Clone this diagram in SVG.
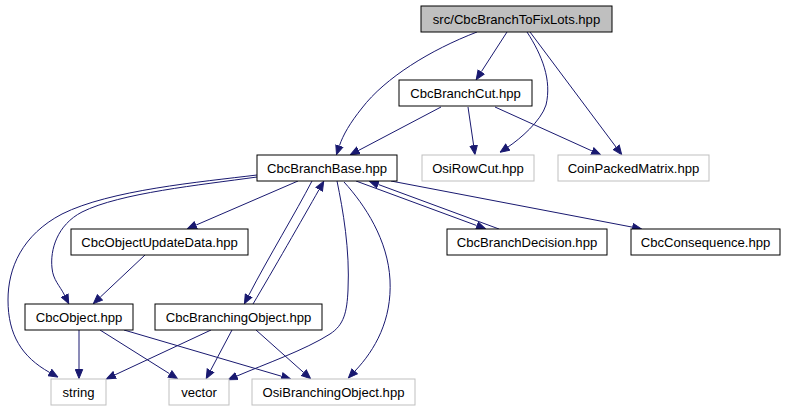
<svg xmlns="http://www.w3.org/2000/svg" width="785" height="411" viewBox="0 0 785 411">
<style>
.n rect{fill:#ffffff;stroke:#000000;stroke-width:1}
.n.root rect{fill:#bfbfbf}
.n.ext rect{stroke:#bfbfbf}
.n text{font-family:"Liberation Sans",Arial,Helvetica,sans-serif;font-size:13.1px;fill:#000000;text-anchor:middle}
.e path{fill:none;stroke:#191970;stroke-width:1;marker-end:url(#ah)}
</style>
<defs>
<marker id="ah" viewBox="0 0 10 9" refX="0" refY="4.5" markerWidth="10" markerHeight="9" markerUnits="userSpaceOnUse" orient="auto">
<path d="M0.5,0.8 L9.5,4.5 L0.5,8.2 z" fill="#191970" stroke="#191970" stroke-width="1"/>
</marker>
</defs>
<rect x="0" y="0" width="785" height="411" fill="#ffffff"/>
<g id="edges" class="e">
<path d="M477,32 C430,50 385,78 362,108 C350,123 343,135 339.5,145.6"/>
<path d="M507,32 L481.4,71.6"/>
<path d="M527,32 C542,55 552,80 546,105 C541,121 520,139 508.1,146.9"/>
<path d="M530,32 L616,147"/>
<path d="M441,107 L358.8,150.3"/>
<path d="M468,107 L473.6,145.1"/>
<path d="M495,107 L591.9,150.9"/>
<path d="M257,175 C200,182 110,190 62,214 C22,235 8,268 8,300 C8,335 22,357 49.5,372.4"/>
<path d="M257,177 C200,185 120,193 82,212 C57,225 50,250 52,268 C53,280 60,286 64.5,295.1"/>
<path d="M298,181 L196.2,225"/>
<path d="M145,255 L100.3,297.1"/>
<path d="M312,181 C296,212 268,258 248.8,295.2"/>
<path d="M253,304 C272,272 303,218 319,189.7"/>
<path d="M337,181 C343,210 350,250 348,290 C347,312 344,325 330,334 C305,350 265,364 237,376"/>
<path d="M344,182 C365,205 388,240 390,280 C392,320 375,350 355,371"/>
<path d="M356,181 L476.6,225.5"/>
<path d="M499,229 L378.4,184.5"/>
<path d="M391,181 L632.2,227.1"/>
<path d="M79,330 L79,369"/>
<path d="M100,330 L169.5,373.7"/>
<path d="M124,330 L281.4,376.2"/>
<path d="M211,330 L115.1,374.8"/>
<path d="M232,330 L210.7,370.2"/>
<path d="M256,330 L303.5,372.4"/>
</g>
<g id="node_root" class="n root"><rect x="421" y="6" width="191" height="26"/><text x="516.5" y="23.5">src/CbcBranchToFixLots.hpp</text></g>
<g id="node_CbcBranchCut" class="n"><rect x="399" y="80" width="133" height="26"/><text x="465.5" y="97.5">CbcBranchCut.hpp</text></g>
<g id="node_OsiRowCut" class="n ext"><rect x="422" y="155" width="112" height="26"/><text x="478" y="172.5">OsiRowCut.hpp</text></g>
<g id="node_CoinPackedMatrix" class="n ext"><rect x="558" y="155" width="151" height="26"/><text x="633.5" y="172.5">CoinPackedMatrix.hpp</text></g>
<g id="node_CbcBranchBase" class="n"><rect x="257" y="155" width="140" height="26"/><text x="327" y="172.5">CbcBranchBase.hpp</text></g>
<g id="node_CbcObjectUpdateData" class="n"><rect x="71" y="229" width="177" height="26"/><text x="159.5" y="246.5">CbcObjectUpdateData.hpp</text></g>
<g id="node_CbcBranchDecision" class="n"><rect x="447" y="229" width="160" height="26"/><text x="527" y="246.5">CbcBranchDecision.hpp</text></g>
<g id="node_CbcConsequence" class="n"><rect x="631" y="229" width="149" height="26"/><text x="705.5" y="246.5">CbcConsequence.hpp</text></g>
<g id="node_CbcObject" class="n"><rect x="25" y="304" width="108" height="26"/><text x="79" y="321.5">CbcObject.hpp</text></g>
<g id="node_CbcBranchingObject" class="n"><rect x="155" y="304" width="167" height="26"/><text x="238.5" y="321.5">CbcBranchingObject.hpp</text></g>
<g id="node_string" class="n ext"><rect x="51" y="379" width="55" height="26"/><text x="78.5" y="396.5">string</text></g>
<g id="node_vector" class="n ext"><rect x="169" y="379" width="60" height="26"/><text x="199" y="396.5">vector</text></g>
<g id="node_OsiBranchingObject" class="n ext"><rect x="252" y="379" width="163" height="26"/><text x="333.5" y="396.5">OsiBranchingObject.hpp</text></g>
</svg>
